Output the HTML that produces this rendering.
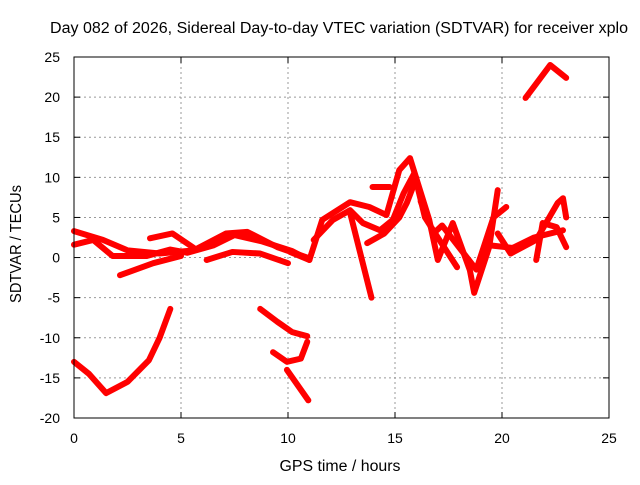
<!DOCTYPE html>
<html><head><meta charset="utf-8"><style>
body{margin:0;background:#fff}
svg text{font-family:"Liberation Sans",sans-serif;font-size:14px;fill:#000}
svg text.big{font-size:15.5px}
</style></head><body>
<svg id="chart" width="640" height="480" viewBox="0 0 640 480" xmlns="http://www.w3.org/2000/svg">
<rect width="640" height="480" fill="#fff"/>
<g id="grid"></g>
<g id="series"></g>
<rect x="74" y="57" width="535" height="361" fill="none" stroke="#000" stroke-width="1"/>
<g id="ticks"></g>
<text class="big" x="339" y="33" text-anchor="middle" textLength="578" lengthAdjust="spacingAndGlyphs">Day 082 of 2026, Sidereal Day-to-day VTEC variation (SDTVAR) for receiver xplo</text>
<text class="big" x="340" y="471" text-anchor="middle" textLength="121" lengthAdjust="spacingAndGlyphs">GPS time / hours</text>
<text class="big" transform="translate(21,244) rotate(-90)" text-anchor="middle" textLength="118" lengthAdjust="spacingAndGlyphs">SDTVAR / TECUs</text>
</svg>
<script>
const xTicks=[0,5,10,15,20,25];
const yTicks=[-20,-15,-10,-5,0,5,10,15,20,25];
const s1=[[0,-13],[0.7,-14.5],[1.5,-16.9],[2.5,-15.5],[3.5,-12.8],[4,-10],[4.5,-6.4]];
const s2=[[8.7,-6.4],[9.5,-8],[10.2,-9.3],[10.9,-9.8]];
const s3=[[9.3,-11.8],[9.95,-13],[10.6,-12.6],[10.9,-10.5]];
const s4=[[9.95,-14],[10.95,-17.8]];
const s5=[[0,3.3],[1.35,2.2],[2.5,0.9],[4,0.5],[5.6,0.9],[7.1,3],[8.1,3.2],[9.5,1.3],[10.9,0]];
const s6=[[0,1.6],[0.9,2.2],[1.8,0.2],[3.4,0.2],[4.5,1],[5.3,0.6],[6.5,1.5],[7.5,2.8],[8.8,2],[10.2,0.8],[11,-0.3]];
const s7=[[2.15,-2.2],[3.7,-0.7],[5,0.2]];
const s8=[[3.55,2.4],[4.6,3],[5.6,1.2]];
const s9=[[6.2,-0.3],[7.4,0.7],[8.7,0.5],[10,-0.7]];
const s10=[[10.1,0.7],[11,-0.3],[11.6,4.7],[12.9,6.9],[13.8,6.3],[14.6,5.3],[15.2,10.9],[15.7,12.4],[16.6,4.7],[17,-0.3],[17.7,4.3],[18.5,-1.6],[18.7,-4.4],[19.4,1.3],[19.8,8.4]];
const s11=[[12.9,5.6],[13.9,-5]];
const s12=[[13.95,8.8],[14.75,8.8]];
const s13=[[11.2,2.2],[12.1,4.7],[12.9,5.9],[13.5,4.3],[14.3,3.4],[14.9,4.7],[15.4,8],[15.9,10.5],[16.4,5],[17,2.5],[17.9,-1.2]];
const s14=[[13.7,1.8],[14.5,3],[15.2,5],[15.55,6.8],[16,9.9]];
const s15=[[16.2,7],[16.8,3],[17.2,4],[18.8,-1.5],[19.6,5],[20.2,6.3]];
const s16=[[19.8,3],[20.4,0.5],[21.6,2.2],[22.6,6.8],[22.85,7.4],[23,5]];
const s17=[[21.6,-0.3],[21.9,4.3],[22.55,3.8],[23,1.3]];
const s18=[[19.5,1.5],[20.5,1.2],[21.5,2.5],[22.85,3.4]];
const s19=[[21.1,19.9],[22.25,24],[23,22.4]];
const allSeries=[s1,s2,s3,s4,s5,s6,s7,s8,s9,s10,s11,s12,s13,s14,s15,s16,s17,s18,s19];
const X0=74,X1=609,Y0=418,Y1=57;
const xs=h=>X0+(h-0)/(25-0)*(X1-X0);
const ys=v=>Y0-(v+20)/(45)*(Y0-Y1);
const NS="http://www.w3.org/2000/svg";
const grid=document.getElementById('grid'),ticks=document.getElementById('ticks'),ser=document.getElementById('series');
function mk(t,a,p){const e=document.createElementNS(NS,t);for(const k in a)e.setAttribute(k,a[k]);p.appendChild(e);return e;}
xTicks.forEach(t=>{const x=xs(t);
 if(t>0&&t<25){const g=mk('line',{x1:x,x2:x,y1:Y1,y2:Y0,stroke:'#999','stroke-dasharray':'2,3'},grid);
 
 }
 const l=mk('text',{x:x,y:443,'text-anchor':'middle'},ticks);l.textContent=t;
 
 
 mk('line',{x1:x,x2:x,y1:Y0,y2:Y0-6,stroke:'#000'},ticks);mk('line',{x1:x,x2:x,y1:Y1,y2:Y1+6,stroke:'#000'},ticks);});
yTicks.forEach(t=>{const y=ys(t);
 if(t>-20&&t<25){const g=mk('line',{x1:X0,x2:X1,y1:y,y2:y,stroke:'#999','stroke-dasharray':'2,3'},grid);
 
 }
 const l=mk('text',{x:60,y:y+5,'text-anchor':'end'},ticks);l.textContent=t;
 
 
 mk('line',{x1:X0,x2:X0+6,y1:y,y2:y,stroke:'#000'},ticks);mk('line',{x1:X1,x2:X1-6,y1:y,y2:y,stroke:'#000'},ticks);});
allSeries.forEach((s,i)=>{
 const p=mk('polyline',{points:s.map(d=>xs(d[0])+','+ys(d[1])).join(' '),fill:'none',stroke:'#f00','stroke-width':6,'stroke-linejoin':'round','stroke-linecap':'round'},ser);
 
 
});
</script>
</body></html>
